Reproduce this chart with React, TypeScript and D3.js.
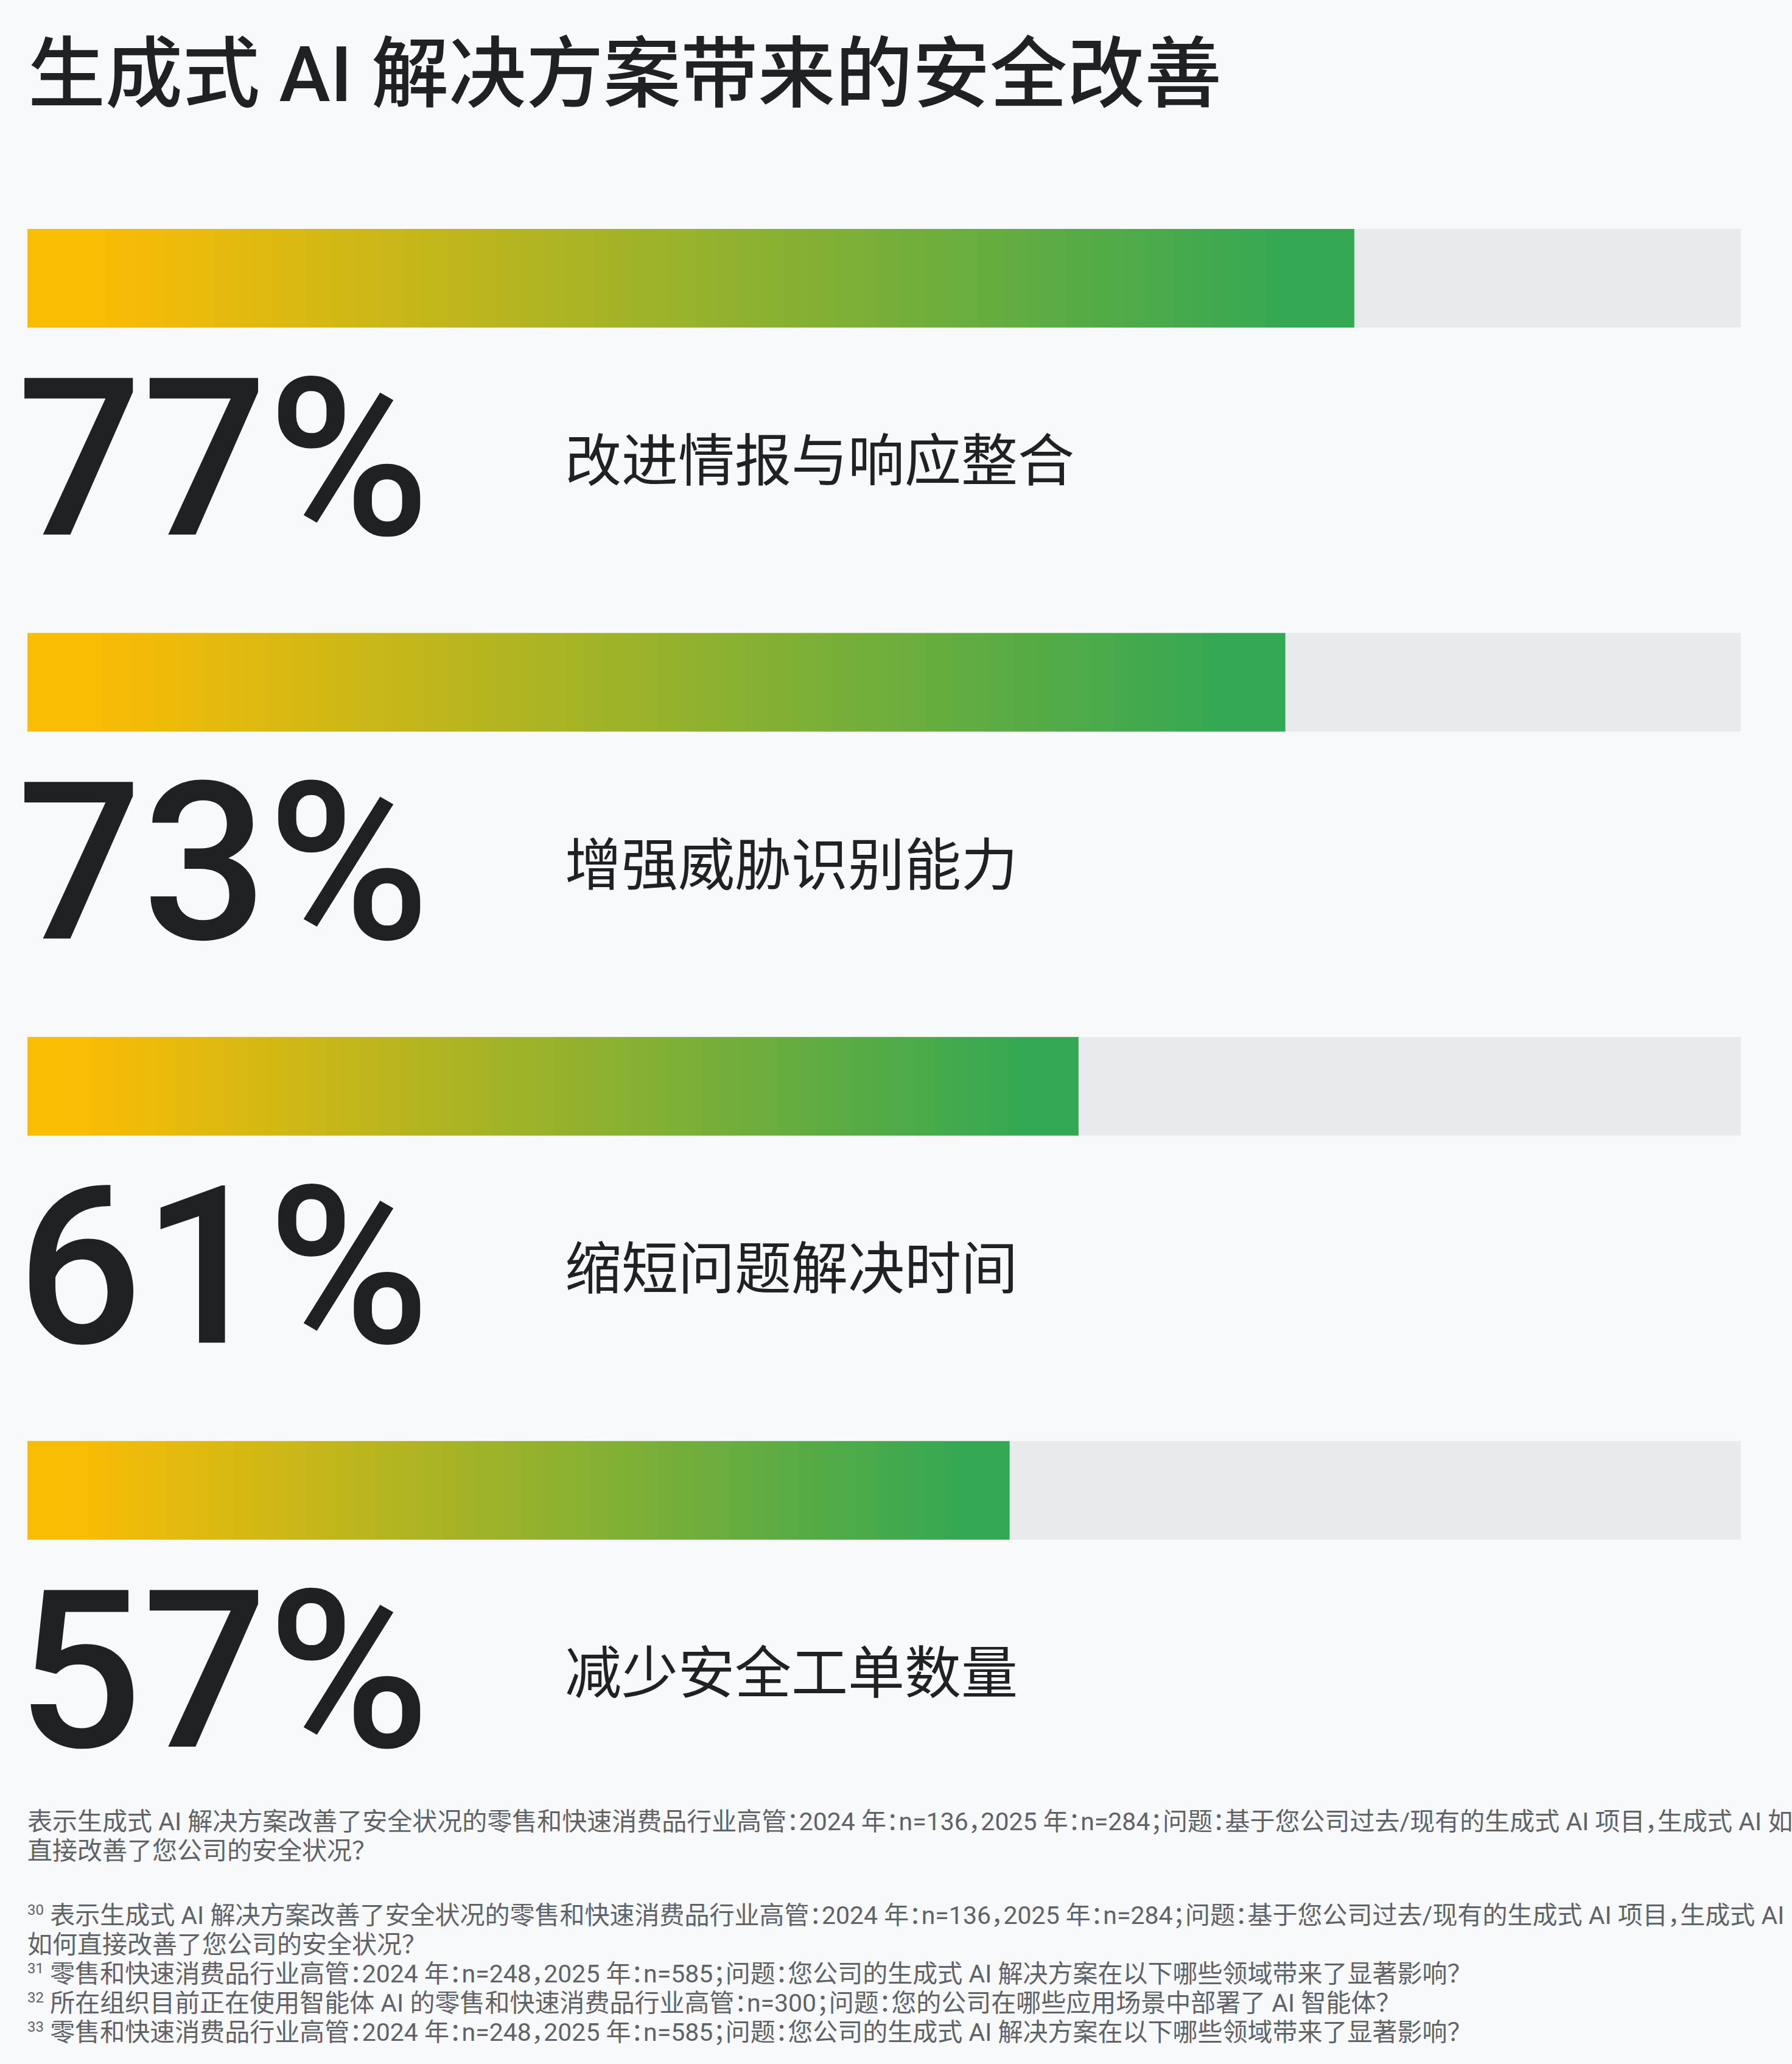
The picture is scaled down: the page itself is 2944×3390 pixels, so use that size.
import * as d3 from 'd3'

const title = '生成式 AI 解决方案带来的安全改善'

const categories = ['改进情报与响应整合', '增强威胁识别能力', '缩短问题解决时间', '减少安全工单数量']
const percents = [77, 73, 61, 57]

// footnotes: [superscript, text] per line
const noteLines: [string, string][] = [
  ['', '表示生成式 AI 解决方案改善了安全状况的零售和快速消费品行业高管：2024 年：n=136，2025 年：n=284；问题：基于您公司过去/现有的生成式 AI 项目，生成式 AI 如'],
  ['', '直接改善了您公司的安全状况？'],
  ['30', '表示生成式 AI 解决方案改善了安全状况的零售和快速消费品行业高管：2024 年：n=136，2025 年：n=284；问题：基于您公司过去/现有的生成式 AI 项目，生成式 AI'],
  ['', '如何直接改善了您公司的安全状况？'],
  ['31', '零售和快速消费品行业高管：2024 年：n=248，2025 年：n=585；问题：您公司的生成式 AI 解决方案在以下哪些领域带来了显著影响？'],
  ['32', '所在组织目前正在使用智能体 AI 的零售和快速消费品行业高管：n=300；问题：您的公司在哪些应用场景中部署了 AI 智能体？'],
  ['33', '零售和快速消费品行业高管：2024 年：n=248，2025 年：n=585；问题：您公司的生成式 AI 解决方案在以下哪些领域带来了显著影响？'],
]
const noteGap = [0, 0, 1, 0, 0, 0, 0] // blank line before the numbered notes

const W = 2944
const H = 3390

export default function App() {
  const left = 45
  const trackRight = 2860
  const barH = 162
  const rowStep = 663.6
  const top = 376

  const x = d3.scaleLinear().domain([0, 100]).range([left, 2876])
  const y = d3.scaleBand<string>()
    .domain(categories)
    .range([top, top + rowStep * categories.length])

  const cjk = '"Noto Sans CJK SC", "Noto Sans", sans-serif'
  const mixed = 'Roboto, "Noto Sans CJK SC", sans-serif'

  let noteY = 3006
  const notePos = noteLines.map((_, i) => {
    if (i > 0) noteY += 48 + noteGap[i] * 58
    return noteY
  })

  return (
    <div style={{ position: 'absolute', left: 0, top: 0, width: W, height: H, background: '#f8f9fa' }}>
      <svg width={W} height={H} viewBox={`0 0 ${W} ${H}`} style={{ display: 'block' }}>
        <defs>
          <linearGradient id="barGrad" x1="0" y1="0" x2="1" y2="0">
            <stop offset="0.05" stopColor="#fbbc04" />
            <stop offset="0.95" stopColor="#34a853" />
          </linearGradient>
        </defs>
        <rect width={W} height={H} fill="#f8f9fa" />

        <text x={46} y={166} fontFamily={mixed} fontWeight={500} fontSize={127} fill="#202124">
          {title}
        </text>

        {categories.map((c, i) => {
          const y0 = y(c) as number
          return (
            <g key={c}>
              <rect x={left} y={y0} width={trackRight - left} height={barH} fill="#e8eaed" />
              <rect x={x(0)} y={y0} width={x(percents[i]) - x(0)} height={barH} fill="url(#barGrad)" />
              <text x={28} y={y0 + 502} fontFamily="Roboto, sans-serif" fontWeight={500}
                fontSize={362} fill="#202124">
                {percents[i]}%
              </text>
              <text x={928} y={y0 + 414} fontFamily={cjk} fontWeight={400} fontSize={93} fill="#202124">
                {c}
              </text>
            </g>
          )
        })}

        <g fontFamily={mixed} fontSize={41} fill="#5f6368" style={{ fontFeatureSettings: '"halt"' }}>
          {noteLines.map(([sup, t], i) => (
            <text key={i} x={45} y={notePos[i]}>
              {sup ? <tspan fontSize={24} dy={-15}>{sup}</tspan> : null}
              {sup ? <tspan dy={15}>{' ' + t}</tspan> : t}
            </text>
          ))}
        </g>
      </svg>
    </div>
  )
}
